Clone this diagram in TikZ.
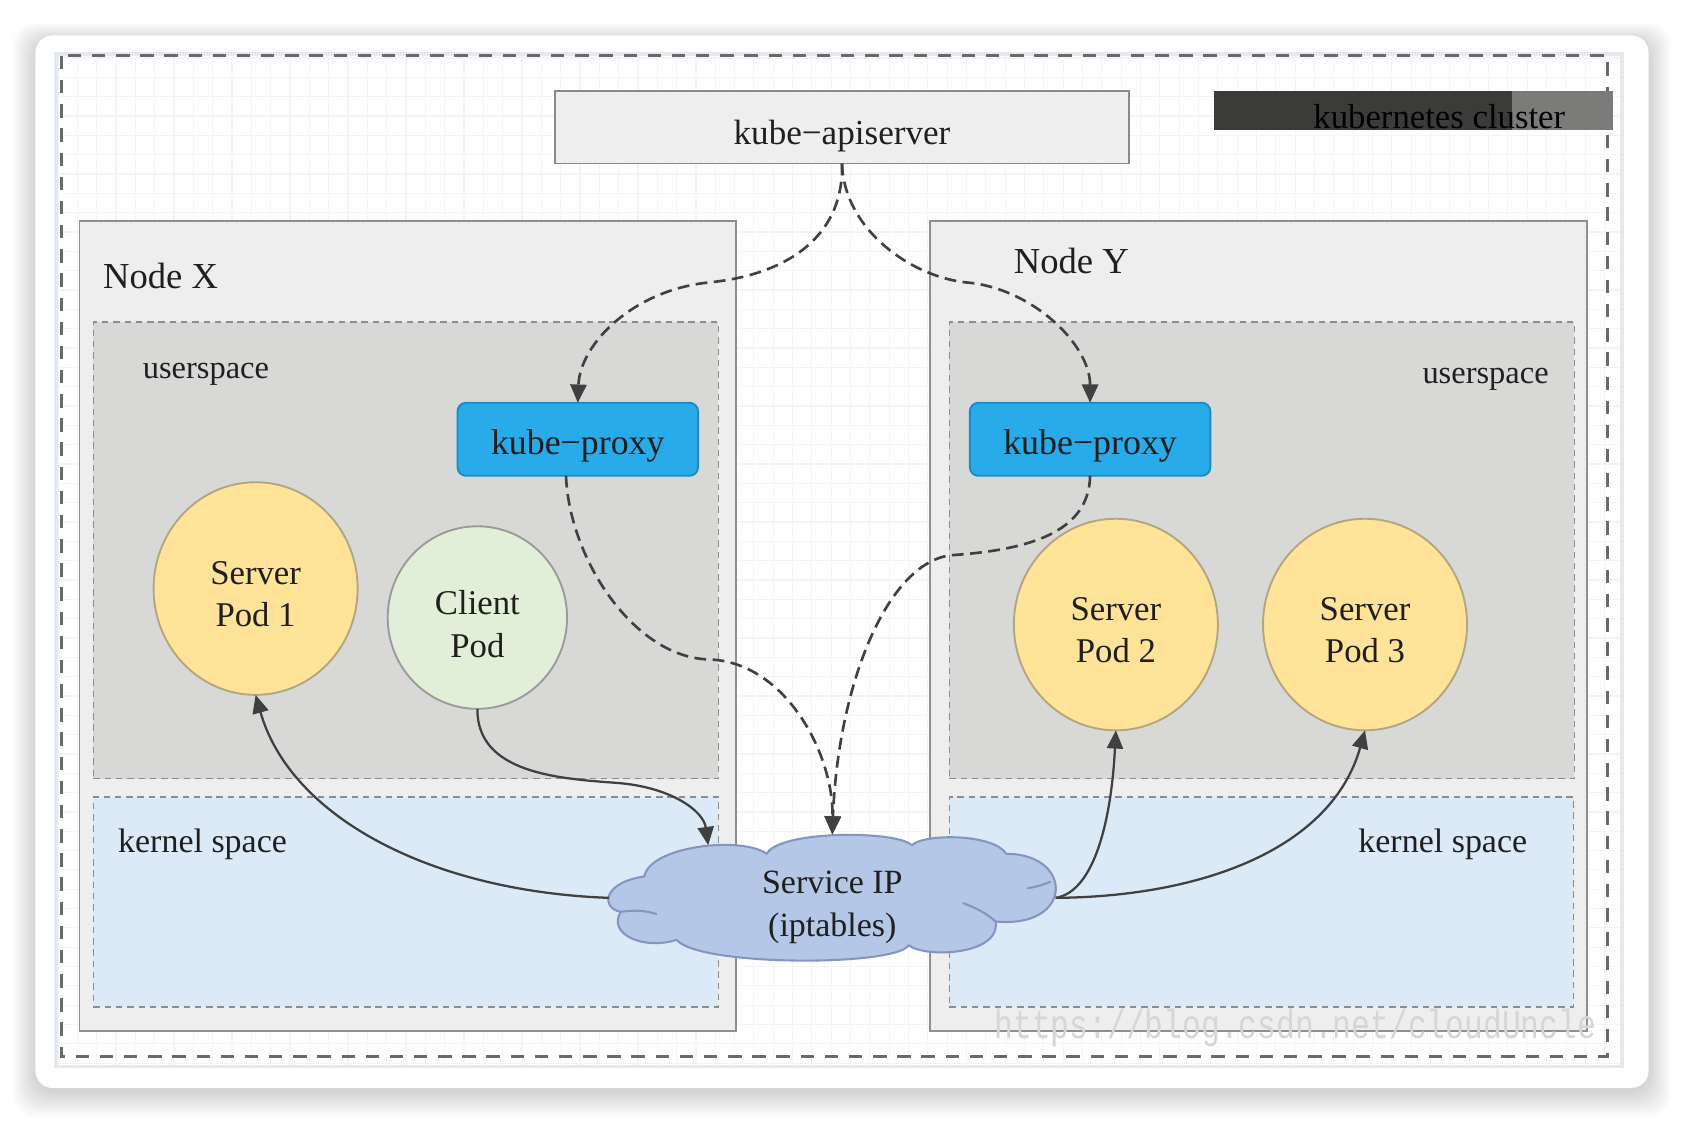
\documentclass[tikz,border=0pt]{standalone}
\usepackage{fontspec}
\setmainfont{Liberation Serif}
\newfontfamily\wmfont{Liberation Mono}
\usetikzlibrary{shapes.geometric,arrows.meta}
\definecolor{txt}{HTML}{1F1F1F}
\definecolor{nodefill}{HTML}{EEEEEE}
\definecolor{nodeborder}{HTML}{8F8F8F}
\definecolor{userfill}{HTML}{D8D9D7}
\definecolor{kernfill}{HTML}{DCE9F6}
\definecolor{dashborder}{HTML}{8C8C8C}
\definecolor{proxyfill}{HTML}{29ABE9}
\definecolor{proxyborder}{HTML}{1B8AC6}
\definecolor{podfill}{HTML}{FFE399}
\definecolor{podborder}{HTML}{B3A67E}
\definecolor{clientfill}{HTML}{E2EFD8}
\definecolor{clientborder}{HTML}{9A9A9A}
\definecolor{cloudfill}{HTML}{B4C7E7}
\definecolor{cloudborder}{HTML}{8694C0}
\definecolor{apifill}{HTML}{EEEEEE}
\definecolor{apiborder}{HTML}{8A8A8A}
\definecolor{framecol}{HTML}{6A6A6A}
\definecolor{conn}{HTML}{404040}
\definecolor{bardark}{HTML}{3B3C3A}
\definecolor{barlight}{HTML}{7B7B7A}
\definecolor{gridcol}{HTML}{F2F4F7}
\definecolor{edgecol}{HTML}{E3E9EF}
\tikzset{
  box/.style={rectangle, inner sep=0pt, outer sep=0pt, line width=0.5pt, text=txt},
  dashedbox/.style={box, draw=dashborder, line width=0.4pt, dash pattern=on 0.6mm off 0.45mm},
  lbl/.style={inner sep=0pt, outer sep=0pt, text=txt},
  pod/.style={ellipse, inner sep=0pt, outer sep=0pt, line width=0.5pt, align=center, text=txt,
    font=\fontsize{9.2}{11.3}\selectfont},
  cloudshape/.style={draw=cloudborder, fill=cloudfill, line width=0.55pt, line join=round},
  cloudin/.style={draw=cloudborder, line width=0.55pt, line cap=round},
  dline/.style={draw=conn, line width=0.7pt, dash pattern=on 1.1mm off 0.6mm,
    -{Triangle[length=1.7mm,width=1.5mm]}},
  sline/.style={draw=conn, line width=0.6pt, -{Triangle[length=1.7mm,width=1.5mm]}},
}
\newcommand{\upstrut}[1]{\rule{0pt}{#1}}
\begin{document}
\begin{tikzpicture}[x=0.1mm,y=-0.1mm]
\useasboundingbox (0,0) rectangle (1568,1046.6);
% card shadow
\foreach \i in {1,...,14}{
  \fill[black,opacity=0.013,rounded corners=2mm] (33-\i*1.5,38-\i*1.2) rectangle (1535+\i*1.5,1016+\i*1.7);
}
\fill[white,rounded corners=1.6mm] (33,33) rectangle (1535,1013);
% picture area
\fill[white] (52,50) rectangle (1510,993);
\draw[gridcol,line width=0.3pt,step=1.8mm] (52,50) grid (1510,993);
\draw[edgecol,line width=1pt] (52,50) rectangle (1510,993);
\draw[framecol,line width=0.75pt,dash pattern=on 1.25mm off 1.0mm] (57.5,52) rectangle (1497,984);

% apiserver
\node[box,draw=apiborder,fill=apifill,minimum width=53.4mm,minimum height=6.75mm,
  text height=8.9pt,text depth=0pt,
  font=\fontsize{9.3}{11}\selectfont] (api) at (784,118.5) {kube−apiserver};
% cluster bar
\fill[bardark] (1130,85) rectangle (1408,121);
\fill[barlight] (1408,85) rectangle (1502,121);
\node[lbl,anchor=base west,text=black,font=\fontsize{9.2}{11}\selectfont] (clusterlbl) at (1223,120) {kubernetes cluster};

% nodes
\node[box,draw=nodeborder,fill=nodefill,minimum width=61.1mm,minimum height=75.4mm] (nodex) at (379.5,583) {};
\node[box,draw=nodeborder,fill=nodefill,minimum width=61.2mm,minimum height=75.4mm] (nodey) at (1172,583) {};
\node[dashedbox,fill=userfill,minimum width=58.2mm,minimum height=42.5mm] (userx) at (378,512.5) {};
\node[dashedbox,fill=userfill,minimum width=58.2mm,minimum height=42.5mm] (usery) at (1175,512.5) {};
\node[dashedbox,fill=kernfill,minimum width=58.2mm,minimum height=19.55mm] (kernx) at (378,839.75) {};
\node[dashedbox,fill=kernfill,minimum width=58.1mm,minimum height=19.55mm] (kerny) at (1174.5,839.75) {};

\node[lbl,anchor=base west,font=\fontsize{9.7}{11}\selectfont] (nxlbl) at (96,269) {Node X};
\node[lbl,anchor=base west,font=\fontsize{9.7}{11}\selectfont] (nylbl) at (944,255) {Node Y};
\node[lbl,anchor=base west,font=\fontsize{8.6}{10}\selectfont] (uxlbl) at (133,352) {userspace};
\node[lbl,anchor=base east,font=\fontsize{8.6}{10}\selectfont] (uylbl) at (1442,357) {userspace};
\node[lbl,anchor=base west,font=\fontsize{9}{10}\selectfont] (kxlbl) at (110,794) {kernel space};
\node[lbl,anchor=base east,font=\fontsize{9}{10}\selectfont] (kylbl) at (1422,794) {kernel space};

% proxies
\node[box,draw=proxyborder,fill=proxyfill,rounded corners=0.8mm,minimum width=22.4mm,minimum height=6.8mm,
  text height=8.1pt,text depth=0pt,
  font=\fontsize{9.5}{11}\selectfont] (proxyx) at (538,409) {kube−proxy};
\node[box,draw=proxyborder,fill=proxyfill,rounded corners=0.8mm,minimum width=22.4mm,minimum height=6.8mm,
  text height=8.1pt,text depth=0pt,
  font=\fontsize{9.5}{11}\selectfont] (proxyy) at (1015,409) {kube−proxy};

% pods
\node[pod,draw=podborder,fill=podfill,minimum width=19mm,minimum height=19.8mm] (pod1) at (238,548) {\upstrut{9.0pt}Server\\Pod 1};
\node[pod,draw=clientborder,fill=clientfill,minimum width=16.7mm,minimum height=17mm] (client) at (444.5,575) {\upstrut{9.8pt}Client\\Pod};
\node[pod,draw=podborder,fill=podfill,minimum width=19mm,minimum height=19.7mm] (pod2) at (1039,581.5) {\upstrut{9.0pt}Server\\Pod 2};
\node[pod,draw=podborder,fill=podfill,minimum width=19mm,minimum height=19.7mm] (pod3) at (1271,581.5) {\upstrut{9.0pt}Server\\Pod 3};

% service cloud: outline drawn as puffs, plus an invisible node for the anchors
\node[ellipse,inner sep=0pt,outer sep=0pt,minimum width=41.6mm,minimum height=11.8mm] (cloud) at (775,836) {};
\path[cloudshape] (578,849) .. controls (560,846) and (560,822) .. (600,816)
  .. controls (605,788) and (690,778) .. (714,795)
  .. controls (725,773) and (835,773) .. (849,787)
  .. controls (860,776) and (925,776) .. (937,795)
  .. controls (1000,795) and (1000,865) .. (927,858)
  .. controls (932,890) and (860,892) .. (846,880)
  .. controls (835,900) and (650,900) .. (630,875)
  .. controls (600,885) and (565,870) .. (578,849) -- cycle;
\draw[cloudin] (578,849) .. controls (592,847) and (602,848) .. (611,851);
\draw[cloudin] (927,858) .. controls (918,850) and (908,845) .. (897,841);
\draw[cloudin] (957,827) .. controls (964,826) and (971,824) .. (978,821);
\node[lbl,align=center,font=\fontsize{9}{11.3}\selectfont] (cloudlbl) at (775,845) {Service IP\\(iptables)};

% connectors
\draw[dline] (api.south) .. controls (786,215) and (740,255) .. (660,263)
  .. controls (590,270) and (540,320) .. (proxyx.north);
\draw[dline] (api.south) .. controls (786,215) and (850,258) .. (900,263)
  .. controls (960,268) and (1015,320) .. (proxyy.north);
\draw[dline] ([xshift=-1.1mm]proxyx.south) .. controls (530,520) and (590,612) .. (660,614)
  .. controls (730,616) and (776,700) .. (cloud.north);
\draw[dline] (proxyy.south) .. controls (1014,495) and (960,512) .. (885,517)
  .. controls (825,525) and (780,640) .. (cloud.north);
\draw[sline] (client.south) .. controls (444,720) and (520,725) .. (575,729)
  .. controls (625,733) and (655,755) .. (cloud.157);
\draw[sline] (cloud.west) .. controls (400,830) and (270,760) .. (pod1.south);
\draw[sline] (cloud.east) .. controls (1020,830) and (1035,760) .. (pod2.south);
\draw[sline] (cloud.east) .. controls (1120,835) and (1240,790) .. (pod3.south);

% watermark
\node[lbl,anchor=base west,text=black!16] (wm) at (926,967)
  {\scalebox{1}[1.3]{\wmfont\fontsize{8.3}{10}\selectfont https://blog.csdn.net/cloudUncle}};
\end{tikzpicture}
\end{document}
